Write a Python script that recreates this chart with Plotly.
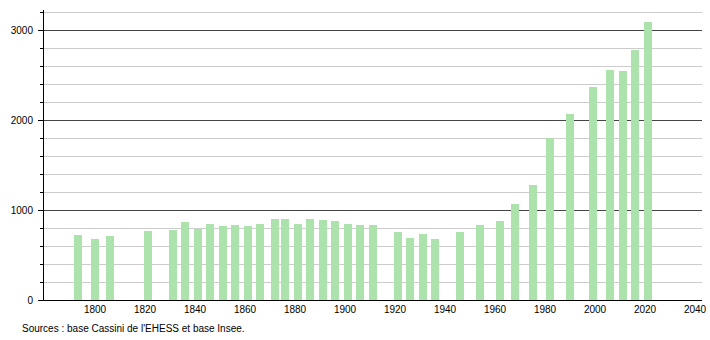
import plotly.graph_objects as go

years = [1793, 1800, 1806, 1821, 1831, 1836, 1841, 1846, 1851, 1856,
         1861, 1866, 1872, 1876, 1881, 1886, 1891, 1896, 1901, 1906,
         1911, 1921, 1926, 1931, 1936, 1946, 1954, 1962, 1968, 1975,
         1982, 1990, 1999, 2006, 2011, 2016, 2021]
population = [719, 685, 711, 774, 778, 870, 796, 852, 822, 833,
              822, 852, 907, 907, 852, 907, 889, 881, 852, 833,
              830, 763, 696, 733, 674, 756, 833, 878, 1067, 1278,
              1804, 2074, 2378, 2563, 2552, 2789, 3093]
x_ticks = list(range(1800, 2041, 20))
source_text = "Sources : base Cassini de l'EHESS et base Insee."

fig = go.Figure()
fig.add_trace(go.Bar(
    x=years, y=population, width=3.2,
    marker=dict(color="#ace3ac", line=dict(width=0)),
    hoverinfo="x+y",
))

fig.update_layout(
    width=710, height=340,
    margin=dict(l=44, r=8, t=10, b=40, autoexpand=False),
    paper_bgcolor="white", plot_bgcolor="white",
    showlegend=False,
    font=dict(family="Liberation Sans, Arial, sans-serif", size=10, color="#000"),
    bargap=0,
)
fig.update_xaxes(
    range=[1779.6, 2042.8],
    tickvals=x_ticks,
    showgrid=False, zeroline=False, automargin=False,
    showline=True, linecolor="black", linewidth=1,
    ticks="", tickfont=dict(size=10),
)
fig.update_yaxes(
    range=[0, 3230],
    tickvals=[0, 1000, 2000, 3000],
    showgrid=True, gridcolor="#444444", gridwidth=1,
    zeroline=False, automargin=False,
    showline=True, linecolor="black", linewidth=1,
    ticks="outside", ticklen=5, tickcolor="black",
    ticklabelstandoff=3,
    minor=dict(dtick=200, showgrid=True, gridcolor="#cccccc", gridwidth=1,
               ticks="outside", ticklen=3, tickcolor="black"),
    tickfont=dict(size=10),
)
fig.add_annotation(
    text=source_text, xref="paper", yref="paper",
    x=-24/658, y=-28/290, xanchor="left", yanchor="middle",
    showarrow=False, font=dict(size=10, color="#000"),
)

fig.write_html("out.html")
